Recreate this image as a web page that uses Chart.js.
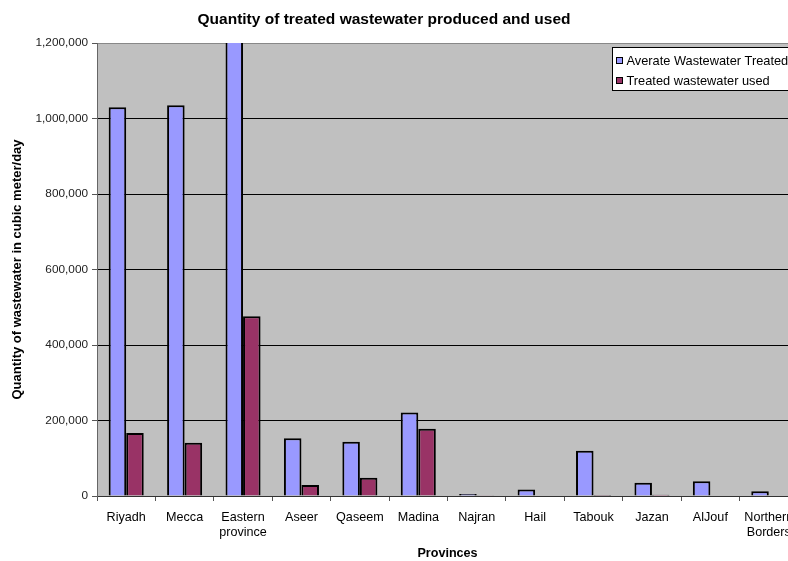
<!DOCTYPE html>
<html>
<head>
<meta charset="utf-8">
<script src="https://cdn.jsdelivr.net/npm/chart.js@4/dist/chart.umd.min.js"></script>
<style>
  html, body { margin: 0; padding: 0; background: #ffffff; overflow: hidden; width: 788px; height: 561px; }
  #wrap { position: relative; width: 808px; height: 561px; }
</style>
</head>
<body>
<div id="wrap"><canvas id="chart"></canvas></div>
<script>
// Provinces of Saudi Arabia
const provinces = [
  'Riyadh', 'Mecca', ['Eastern', 'province'], 'Aseer', 'Qaseem', 'Madina',
  'Najran', 'Hail', 'Tabouk', 'Jazan', 'AlJouf', ['Northern', 'Borders']
];

// Cubic metres per day
const averageTreated = [1030000, 1035000, 1250000, 153000, 144000, 221000, 5000, 17500, 120000, 35000, 39000, 12500];
const treatedUsed    = [167000, 141000, 476000, 29000, 48500, 178000, 2000, 0, 2500, 3500, 0, 0];

const seriesNames = ['Averate Wastewater Treated', 'Treated wastewater used'];
const seriesColors = ['#9999ff', '#993366'];

const yTicks = [0, 200000, 400000, 600000, 800000, 1000000, 1200000];

const chartTitle = 'Quantity of treated wastewater produced and used';
const xTitle = 'Provinces';
const yTitle = 'Quantity of wastewater in cubic meter/day';

const FONT = 'Arial, "Liberation Sans", sans-serif';

// Grey plotting area
const plotBackground = {
  id: 'plotBackground',
  beforeDraw(chart) {
    const { ctx, chartArea: a } = chart;
    ctx.save();
    ctx.fillStyle = '#c0c0c0';
    ctx.fillRect(a.left, a.top, a.right - a.left, a.bottom - a.top);
    ctx.restore();
  }
};

// Heading above the plot
const headingText = {
  id: 'headingText',
  afterDraw(chart) {
    const ctx = chart.ctx;
    ctx.save();
    ctx.font = 'bold 15.5px ' + FONT;
    ctx.fillStyle = '#000';
    ctx.textAlign = 'center';
    ctx.textBaseline = 'middle';
    ctx.fillText(chartTitle, 384, 20);
    ctx.restore();
  }
};

// Boxed legend in the upper right corner of the plot
const boxedLegend = {
  id: 'boxedLegend',
  afterDatasetsDraw(chart) {
    const ctx = chart.ctx;
    const x = 612.5, y = 47.5, w = 200, h = 43;
    ctx.save();
    ctx.fillStyle = '#ffffff';
    ctx.fillRect(x, y, w, h);
    ctx.strokeStyle = '#000';
    ctx.lineWidth = 1;
    ctx.strokeRect(x, y, w, h);
    ctx.font = '12.8px ' + FONT;
    ctx.textBaseline = 'middle';
    chart.data.datasets.forEach((ds, i) => {
      const cy = 61 + i * 20;
      ctx.fillStyle = ds.backgroundColor;
      ctx.fillRect(616.5, cy - 3.5, 6, 6);
      ctx.strokeStyle = '#000';
      ctx.strokeRect(616.5, cy - 3.5, 6, 6);
      ctx.fillStyle = '#000';
      ctx.fillText(ds.label, 626.5, cy);
    });
    ctx.restore();
  }
};

new Chart(document.getElementById('chart'), {
  type: 'bar',
  data: {
    labels: provinces,
    datasets: [
      {
        label: seriesNames[0],
        data: averageTreated,
        backgroundColor: seriesColors[0],
        borderColor: '#000',
        borderWidth: 2,
        borderSkipped: 'bottom'
      },
      {
        label: seriesNames[1],
        data: treatedUsed,
        backgroundColor: seriesColors[1],
        borderColor: '#000',
        borderWidth: 2,
        borderSkipped: 'bottom'
      }
    ]
  },
  options: {
    responsive: true,
    maintainAspectRatio: false,
    animation: false,
    categoryPercentage: 0.6,
    barPercentage: 1.0,
    layout: { padding: { top: 43, right: 10, left: 1, bottom: 0 } },
    plugins: {
      legend: { display: false },
      title: { display: false },
      tooltip: { enabled: false }
    },
    scales: {
      x: {
        grid: {
          offset: true,
          drawOnChartArea: false,
          drawTicks: true,
          tickLength: 5,
          tickColor: '#555'
        },
        border: { display: true, color: '#333', width: 1 },
        ticks: {
          color: '#000',
          font: { family: FONT, size: 12.6, lineHeight: 1.2 },
          padding: 9,
          maxRotation: 0,
          autoSkip: false
        },
        title: {
          display: true,
          text: xTitle,
          color: '#000',
          font: { family: FONT, size: 12.6, weight: 'bold' },
          padding: { top: 2, bottom: 0 }
        },
        afterFit(scale) { scale.height = 65; }
      },
      y: {
        min: 0,
        max: 1200000,
        afterBuildTicks(scale) { scale.ticks = yTicks.map(v => ({ value: v })); },
        grid: {
          color: ctx => (ctx.tick && ctx.tick.value === 1200000) ? '#888' : '#000',
          tickColor: '#555',
          tickLength: 5,
          lineWidth: 1
        },
        border: { display: true, color: '#666', width: 1 },
        ticks: {
          color: '#222',
          font: { family: FONT, size: 11.8 },
          padding: 4,
          callback: v => v.toLocaleString('en-US')
        },
        title: {
          display: true,
          text: yTitle,
          color: '#000',
          font: { family: FONT, size: 13, weight: 'bold' },
          padding: { top: 9, bottom: 0 }
        },
        afterFit(scale) { scale.width = 96; }
      }
    }
  },
  plugins: [plotBackground, headingText, boxedLegend]
});
</script>
</body>
</html>
